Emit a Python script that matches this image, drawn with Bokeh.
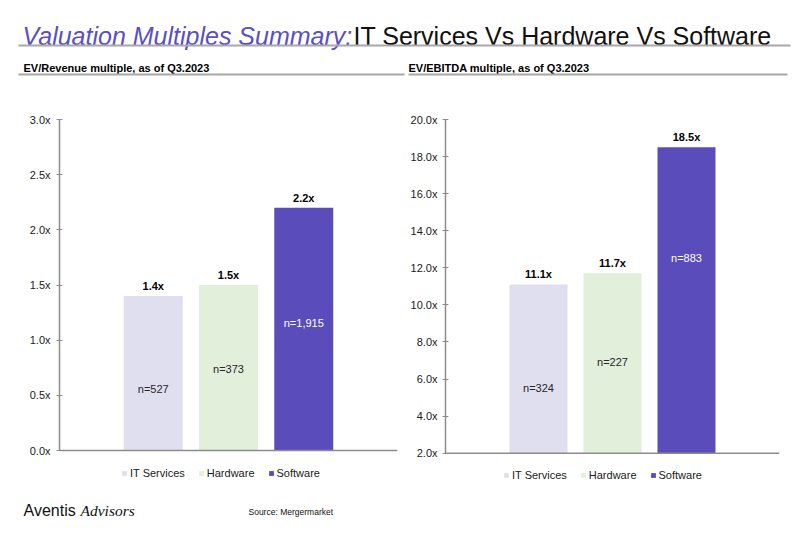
from bokeh.plotting import figure
from bokeh.models import (Range1d, FactorRange, ColumnDataSource, Span, FixedTicker,
                          PrintfTickFormatter, Legend, LegendItem)
from bokeh.layouts import column, row
from bokeh.embed import file_html
from bokeh.resources import INLINE
from bokeh.core.properties import value

# ---------------- data ----------------
categories = ["IT Services", "Hardware", "Software"]
ev_revenue = [1.4, 1.5, 2.2]
ev_revenue_n = [527, 373, 1915]
ev_ebitda = [11.1, 11.7, 18.5]
ev_ebitda_n = [324, 227, 883]
rev_ticks = [0.0, 0.5, 1.0, 1.5, 2.0, 2.5, 3.0]
ebitda_ticks = [2.0, 4.0, 6.0, 8.0, 10.0, 12.0, 14.0, 16.0, 18.0, 20.0]
# heights (data units) where the "n=" sample-size labels sit in the reference
rev_n_label_y = [0.56, 0.74, 1.16]
ebitda_n_label_y = [5.5, 6.9, 12.55]

title_italic = "Valuation Multiples Summary:"
title_rest = "IT Services Vs Hardware Vs Software"
subtitle_left = "EV/Revenue multiple, as of Q3.2023"
subtitle_right = "EV/EBITDA multiple, as of Q3.2023"
source_text = "Source: Mergermarket"

# ---------------- style ----------------
FONT = "Liberation Sans"
SERIF = "Liberation Serif"
PURPLE = "#5a4fc6"
BAR_COLORS = ["#e0dff0", "#e2efda", "#5b4cbb"]
N_COLORS = ["#262626", "#262626", "#ffffff"]
AXIS = "#8c8c8c"
RULE = "#a8a8a8"
TEXT = "#1a1a1a"
TOTAL_W = 800
HDR_H = 88
CHART_H = 400
FTR_H = 40


def make_chart(vals, counts, n_y, ticks, frame_left, frame_right_border, frame_top,
               zero_px, bar_spacing_px, bar_w, legend_loc, standoff):
    W, H = TOTAL_W // 2, CHART_H
    y_min, y_max = ticks[0], ticks[-1]
    ppu = (zero_px - frame_top) / (y_max - y_min)
    frame_h = H - frame_top
    y_start = y_max - frame_h / ppu
    frame_w = W - frame_left - frame_right_border
    pad = (frame_w / bar_spacing_px - len(categories)) / 2.0

    p = figure(width=W, height=H, output_backend="svg", toolbar_location=None,
               x_range=FactorRange(factors=categories, range_padding=pad,
                                   range_padding_units="absolute"),
               y_range=Range1d(y_start, y_max),
               x_axis_location=None,
               min_border_left=frame_left, min_border_right=frame_right_border,
               min_border_top=frame_top, min_border_bottom=0)
    p.outline_line_color = None
    p.grid.visible = False

    src = ColumnDataSource(dict(
        cat=categories, val=vals, color=BAR_COLORS,
        vlabel=[f"{v:.1f}x" for v in vals],
        nlabel=[f"n={n:,}" for n in counts],
        ny=n_y, ncolor=N_COLORS,
    ))
    bars = p.vbar(x="cat", top="val", bottom=y_min, width=bar_w, fill_color="color",
                  line_color=None, source=src)
    p.text(x="cat", y="val", text="vlabel", source=src, text_font=value(FONT),
           text_font_style="bold", text_font_size="11px", text_color="#000000",
           text_align="center", text_baseline="bottom", y_offset=-4)
    p.text(x="cat", y="ny", text="nlabel", source=src, text_font=value(FONT),
           text_font_size="11px", text_color="ncolor",
           text_align="center", text_baseline="middle")

    p.add_layout(Span(location=y_min, dimension="width", line_color=AXIS, line_width=1.5))

    ax = p.yaxis[0]
    ax.ticker = FixedTicker(ticks=ticks)
    ax.bounds = (y_min, y_max)
    ax.formatter = PrintfTickFormatter(format="%.1fx")
    ax.axis_line_color = AXIS
    ax.axis_line_width = 1.5
    ax.major_tick_line_color = AXIS
    ax.major_tick_in = 3
    ax.major_tick_out = 3
    ax.minor_tick_line_color = None
    ax.major_label_text_font = FONT
    ax.major_label_text_font_size = "11px"
    ax.major_label_text_color = TEXT
    ax.major_label_standoff = standoff

    items = [LegendItem(label=c, renderers=[bars], index=i) for i, c in enumerate(categories)]
    leg = Legend(items=items, orientation="horizontal", location=legend_loc,
                 glyph_width=6, glyph_height=6, label_height=6, label_standoff=3,
                 spacing=13, padding=0, margin=0, border_line_color=None,
                 background_fill_alpha=0, label_text_font=FONT,
                 label_text_font_size="11px", label_text_color=TEXT)
    p.add_layout(leg)
    return p


left = make_chart(ev_revenue, ev_revenue_n, rev_n_label_y, rev_ticks,
                  frame_left=59, frame_right_border=3, frame_top=31, zero_px=362,
                  bar_spacing_px=75.25, bar_w=0.784, legend_loc=(62, 9), standoff=6)
right = make_chart(ev_ebitda, ev_ebitda_n, ebitda_n_label_y, ebitda_ticks,
                   frame_left=45, frame_right_border=21, frame_top=29, zero_px=364.5,
                   bar_spacing_px=74, bar_w=0.784, legend_loc=(58, 7), standoff=5)

# ---------------- header ----------------
hdr = figure(width=TOTAL_W, height=HDR_H, output_backend="svg", toolbar_location=None,
             x_range=Range1d(0, TOTAL_W), y_range=Range1d(HDR_H, 0),
             x_axis_location=None, y_axis_location=None, min_border=0)
hdr.outline_line_color = None
hdr.grid.visible = False
hdr.text(x=[22], y=[35], text=[title_italic], text_font=value(FONT),
         text_font_style="italic", text_font_size="25px", text_color=PURPLE,
         text_baseline="alphabetic")
hdr.text(x=[353], y=[35], text=[title_rest], text_font=value(FONT),
         text_font_size="25px", text_color="#111111", text_baseline="alphabetic")
hdr.segment(x0=[18], y0=[45], x1=[790], y1=[45], line_color=RULE, line_width=2)
hdr.text(x=[23, 408], y=[67, 67], text=[subtitle_left, subtitle_right],
         text_font=value(FONT), text_font_style="bold", text_font_size="11px",
         text_color="#000000", text_baseline="alphabetic")
hdr.segment(x0=[18, 408], y0=[74, 74], x1=[404, 787], y1=[74, 74],
            line_color=RULE, line_width=2)

# ---------------- footer ----------------
ftr = figure(width=TOTAL_W, height=FTR_H, output_backend="svg", toolbar_location=None,
             x_range=Range1d(0, TOTAL_W), y_range=Range1d(FTR_H, 0),
             x_axis_location=None, y_axis_location=None, min_border=0)
ftr.outline_line_color = None
ftr.grid.visible = False
ftr.text(x=[23], y=[22], text=["Aventis"], text_font=value(FONT),
         text_font_size="16px", text_color="#111111", text_baseline="middle")
ftr.text(x=[80], y=[22], text=["Advisors"], text_font=value(SERIF),
         text_font_style="italic", text_font_size="15.5px", text_color="#111111",
         text_baseline="middle")
ftr.text(x=[248], y=[23], text=[source_text], text_font=value(FONT),
         text_font_size="8.5px", text_color="#111111", text_baseline="middle")

layout = column(hdr, row(left, right), ftr)
open("out.html", "w").write(file_html(layout, INLINE))
